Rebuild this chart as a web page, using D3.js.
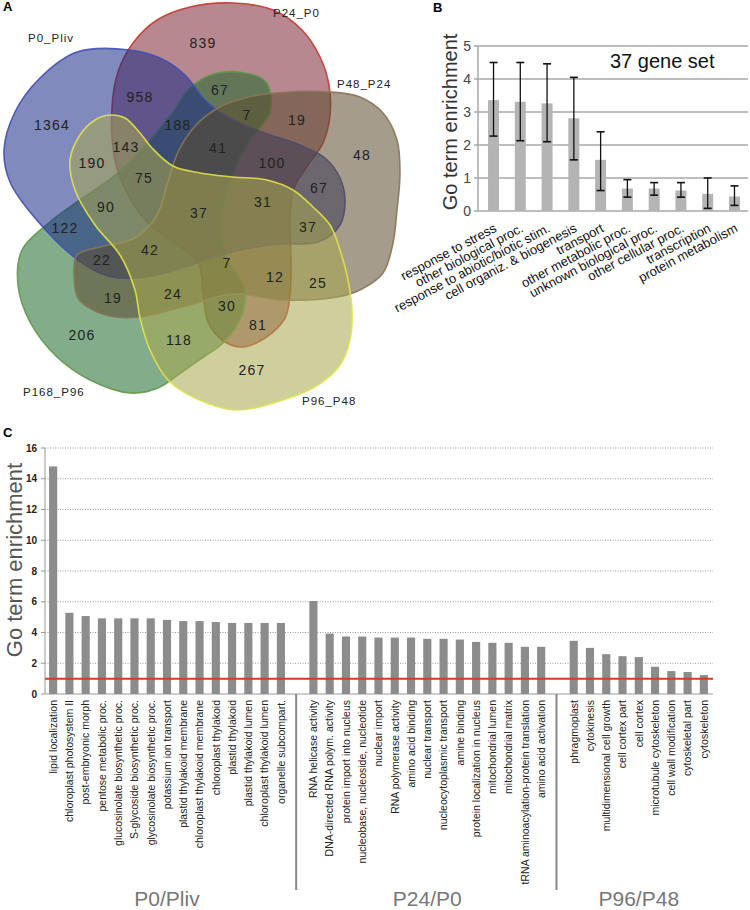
<!DOCTYPE html>
<html><head><meta charset="utf-8">
<script src="https://cdn.jsdelivr.net/npm/d3@7"></script>
<style>
body{margin:0;background:#fff;}
svg{display:block;font-family:"Liberation Sans",Arial,Helvetica,sans-serif;}
</style></head>
<body>
<svg id="chart" width="750" height="910"></svg>
<script>
// ---------- Panel A: Venn data ----------
const vennSets = ["P0_Pliv","P24_P0","P48_P24","P168_P96","P96_P48"];
const vennCounts = [839,958,67,7,19,1364,188,143,41,100,48,190,75,67,90,37,31,37,122,42,22,7,12,25,19,24,30,81,206,118,267];

// ---------- Panel B data ----------
const bCategories = ["response to stress","other biological proc.","response to abiotic/biotic stim.","cell organiz. & biogenesis","transport","other metabolic proc.","unknown biological proc.","other cellular proc.","transcription","protein metabolism"];
const bValues = [3.36,3.31,3.26,2.81,1.55,0.68,0.68,0.62,0.52,0.44];
const bErrLow = [2.27,2.13,2.10,1.55,0.62,0.42,0.48,0.42,0.08,0.17];
const bErrHigh = [4.50,4.50,4.46,4.05,2.40,0.95,0.86,0.86,1.00,0.76];
const bTicks = [0,1,2,3,4,5];

// ---------- Panel C data ----------
const cGroups = ["P0/Pliv","P24/P0","P96/P48"];
const cCatsP0 = ["lipid localization","chloroplast photosystem II","post-embryonic morph","pentose metabolic proc.","glucosinolate biosynthetic proc.","S-glycoside biosynthetic proc.","glycosinolate biosynthetic proc.","potassium ion transport","plastid thylakoid membrane","chloroplast thylakoid membrane","chloroplast thylakoid","plastid thylakoid","plastid thylakoid lumen","chloroplast thylakoid lumen","organelle subcompart."];
const cValsP0 = [14.8,5.28,5.07,4.92,4.92,4.92,4.92,4.82,4.74,4.74,4.68,4.62,4.62,4.62,4.62];
const cCatsP24 = ["RNA helicase activity","DNA-directed RNA polym. activity","protein import into nucleus","nucleobase, nucleoside, nucleotide","nuclear import","RNA polymerase activity","amino acid binding","nuclear transport","nucleocytoplasmic transport","amine binding","protein localization in nucleus","mitochondrial lumen","mitochondrial matrix","tRNA aminoacylation-protein translation","amino acid activation"];
const cValsP24 = [6.05,3.93,3.74,3.74,3.67,3.67,3.67,3.59,3.59,3.54,3.39,3.33,3.33,3.07,3.07];
const cCatsP96 = ["phragmoplast","cytokinesis","multidimensional cell growth","cell cortex part","cell cortex","microtubule cytoskeleton","cell wall modification","cytoskeletal part","cytoskeleton"];
const cValsP96 = [3.46,3.0,2.59,2.46,2.4,1.77,1.49,1.43,1.23];
const cTicks = [0,2,4,6,8,10,12,14,16];
const cThreshold = 1;

const svg = d3.select("#chart");

// ================= Panel A =================
// layout (shape geometry and label placement)
const vennShapes = {
  "P168_P96": {pts:[[22,250],[18,285],[30,322],[57,357],[90,380],[130,393],[158,388],[182,372],[205,356],[222,344],[240,320],[245,290],[226,256],[222,215],[232,175],[250,140],[270,112],[266,82],[238,72],[208,76],[188,90],[173,112],[150,140],[115,175],[80,200],[50,222]], fill:"#1d6a2a", stroke:"#5e9a48"},
  "P0_Pliv": {pts:[[40,78],[77,52],[130,50],[160,58],[185,75],[205,100],[228,117],[262,132],[300,145],[325,158],[340,178],[345,200],[340,225],[318,242],[280,244],[240,250],[200,262],[165,273],[135,278],[108,276],[78,260],[35,218],[10,182],[4,150],[15,112]], fill:"#1a2a86", stroke:"#4050b4"},
  "P24_P0": {pts:[[112,108],[118,72],[133,43],[157,20],[190,7],[233,3],[273,10],[302,30],[320,57],[329,85],[330,115],[323,143],[308,165],[294,188],[290,220],[291,260],[290,295],[285,318],[265,338],[242,347],[222,340],[208,322],[203,292],[198,262],[178,245],[150,225],[128,195],[115,160]], fill:"#7e2735", stroke:"#c23a30"},
  "P48_P24": {pts:[[77,255],[100,247],[135,238],[157,215],[167,185],[178,152],[196,125],[218,108],[245,98],[275,93],[330,92],[360,97],[383,113],[397,140],[400,173],[397,210],[393,243],[383,273],[360,290],[337,297],[283,300],[233,294],[183,307],[140,317],[115,317],[93,310],[78,298],[74,275]], fill:"#5b4b2e", stroke:"#8a7458"},
  "P96_P48": {pts:[[110,115],[125,118],[140,133],[152,148],[173,166],[200,173],[233,177],[267,180],[293,190],[313,207],[330,225],[340,250],[348,280],[352,310],[350,340],[340,365],[318,385],[283,400],[235,410],[195,398],[168,380],[150,350],[140,318],[135,290],[120,255],[95,225],[75,190],[70,160],[80,135],[95,120]], fill:"#a8a84e", stroke:"#e2e24a"}
};
const drawOrder = ["P24_P0","P168_P96","P0_Pliv","P48_P24","P96_P48"];
const setLabelPos = {"P0_Pliv":[28,42],"P24_P0":[273,17],"P48_P24":[337,88],"P168_P96":[23,396],"P96_P48":[302,405]};
const countPos = [[203,43],[140,97],[220,90],[247,115],[297,120],[52,125],[178,125],[126,147],[218,148],[272,163],[362,155],[92,163],[144,178],[319,188],[106,207],[199,213],[263,202],[308,227],[65,228],[150,250],[102,260],[227,263],[275,277],[318,283],[113,298],[173,294],[227,306],[258,325],[82,335],[179,340],[252,370]];

const gA = svg.append("g");
const line = d3.line().curve(d3.curveCatmullRomClosed.alpha(0.5));
drawOrder.forEach(k => {
  const s = vennShapes[k];
  gA.append("path").attr("d", line(s.pts))
    .attr("fill", s.fill).attr("fill-opacity", 0.55)
    .attr("stroke", s.stroke).attr("stroke-width", 1.6).attr("stroke-opacity",0.9);
});
vennSets.forEach(k => {
  gA.append("text").attr("x", setLabelPos[k][0]).attr("y", setLabelPos[k][1])
    .attr("font-size", 11.5).attr("letter-spacing", 1).attr("fill", "#222").text(k);
});
vennCounts.forEach((v,i) => {
  gA.append("text").attr("x", countPos[i][0]).attr("y", countPos[i][1]).attr("dy","0.36em")
    .attr("text-anchor","middle").attr("font-size", 14).attr("letter-spacing", 1.2)
    .attr("fill", "#222").text(v);
});
svg.append("text").attr("x",3).attr("y",11).attr("font-size",13).attr("font-weight","bold").text("A");

// ================= Panel B =================
const gB = svg.append("g");
const bx = d3.scaleBand().domain(bCategories).range([480,748]).paddingInner(0.59).paddingOuter(0.3);
const by = d3.scaleLinear().domain([0,5]).range([211,46]);
gB.selectAll("line.grid").data(bTicks).join("line")
  .attr("x1",478).attr("x2",748).attr("y1",d=>by(d)).attr("y2",d=>by(d))
  .attr("stroke","#a9a9a9").attr("stroke-width",1.5);
gB.append("line").attr("x1",478).attr("x2",478).attr("y1",by(5)).attr("y2",by(0)).attr("stroke","#a9a9a9").attr("stroke-width",1.5);
gB.selectAll("line.tk").data(bTicks).join("line")
  .attr("x1",474).attr("x2",478).attr("y1",d=>by(d)).attr("y2",d=>by(d))
  .attr("stroke","#a9a9a9").attr("stroke-width",1.5);
gB.selectAll("text.tl").data(bTicks).join("text")
  .attr("x",471).attr("y",d=>by(d)).attr("dy","0.36em").attr("text-anchor","end")
  .attr("font-size",14).attr("fill","#444").text(d=>d);
gB.selectAll("rect").data(bValues).join("rect")
  .attr("x",(d,i)=>bx(bCategories[i])).attr("width",bx.bandwidth())
  .attr("y",d=>by(d)).attr("height",d=>by(0)-by(d)).attr("fill","#b4b4b4");
bValues.forEach((v,i) => {
  const cx = bx(bCategories[i]) + bx.bandwidth()/2;
  gB.append("line").attr("x1",cx).attr("x2",cx).attr("y1",by(bErrLow[i])).attr("y2",by(bErrHigh[i])).attr("stroke","#111").attr("stroke-width",1.3);
  [bErrLow[i],bErrHigh[i]].forEach(e => gB.append("line").attr("x1",cx-4).attr("x2",cx+4).attr("y1",by(e)).attr("y2",by(e)).attr("stroke","#111").attr("stroke-width",1.6));
  gB.append("text").attr("transform",`translate(${cx+4},${231}) rotate(-28)`)
    .attr("text-anchor","end").attr("font-size",13).attr("fill","#111").text(bCategories[i]);
});
gB.append("text").attr("x",610).attr("y",68).attr("font-size",20).attr("fill","#111").text("37 gene set");
gB.append("text").attr("transform","translate(457,122) rotate(-90)").attr("text-anchor","middle")
  .attr("font-size",20).attr("fill","#333").text("Go term enrichment");
svg.append("text").attr("x",433).attr("y",12).attr("font-size",13).attr("font-weight","bold").text("B");

// ================= Panel C =================
const gC = svg.append("g");
const cSlots = [...cCatsP0, "__sep1", ...cCatsP24, "__sep2", ...cCatsP96];
const cCats = [...cCatsP0, ...cCatsP24, ...cCatsP96];
const cVals = [...cValsP0, ...cValsP24, ...cValsP96];
const cx = d3.scaleBand().domain(cSlots).range([45,712]).paddingInner(0.5).paddingOuter(0.25);
const cy = d3.scaleLinear().domain([0,16]).range([694,448]);
gC.selectAll("line.grid").data(cTicks.filter(d=>d>0)).join("line")
  .attr("x1",45).attr("x2",713).attr("y1",d=>cy(d)).attr("y2",d=>cy(d))
  .attr("stroke","#9a9a9a").attr("stroke-width",1).attr("stroke-dasharray","1,1.5");
gC.append("line").attr("x1",45).attr("x2",45).attr("y1",cy(16)).attr("y2",cy(0)).attr("stroke","#9a9a9a").attr("stroke-width",1);
gC.append("line").attr("x1",45).attr("x2",713).attr("y1",cy(0)).attr("y2",cy(0)).attr("stroke","#9a9a9a").attr("stroke-width",1.2);
gC.selectAll("line.tk").data(cTicks).join("line")
  .attr("x1",41).attr("x2",45).attr("y1",d=>cy(d)).attr("y2",d=>cy(d)).attr("stroke","#9a9a9a");
gC.selectAll("text.tl").data(cTicks).join("text")
  .attr("x",37).attr("y",d=>cy(d)).attr("dy","0.36em").attr("text-anchor","end")
  .attr("font-size",10).attr("font-weight","bold").attr("fill","#222").text(d=>d);
gC.selectAll("rect").data(cVals).join("rect")
  .attr("x",(d,i)=>cx(cCats[i])).attr("width",cx.bandwidth())
  .attr("y",d=>cy(d)).attr("height",d=>cy(0)-cy(d)).attr("fill","#8c8c8c");
gC.append("line").attr("x1",45).attr("x2",713).attr("y1",cy(cThreshold)).attr("y2",cy(cThreshold))
  .attr("stroke","#d43a24").attr("stroke-width",2);
cCats.forEach((c,i) => {
  const x = cx(c) + cx.bandwidth()/2 + 3.8;
  gC.append("text").attr("transform",`translate(${x},700) rotate(-90)`).attr("text-anchor","end")
    .attr("font-size",10.5).attr("fill","#222").text(c);
});
["__sep1","__sep2"].forEach(s => {
  const x = cx(s) + cx.bandwidth()/2 - 1;
  gC.append("line").attr("x1",x).attr("x2",x).attr("y1",cy(0)).attr("y2",890).attr("stroke","#888").attr("stroke-width",2);
});
const groupCenters = [
  (cx(cCatsP0[0]) + cx(cCatsP0[cCatsP0.length-1]) + cx.bandwidth())/2,
  (cx(cCatsP24[0]) + cx(cCatsP24[cCatsP24.length-1]) + cx.bandwidth())/2,
  (cx(cCatsP96[0]) + cx(cCatsP96[cCatsP96.length-1]) + cx.bandwidth())/2
];
cGroups.forEach((g,i) => {
  gC.append("text").attr("x",groupCenters[i]).attr("y",906).attr("text-anchor","middle")
    .attr("font-size",21).attr("fill","#777").text(g);
});
gC.append("text").attr("transform","translate(22,560) rotate(-90)").attr("text-anchor","middle")
  .attr("font-size",22).attr("fill","#555").text("Go term enrichment");
svg.append("text").attr("x",3).attr("y",437).attr("font-size",13).attr("font-weight","bold").text("C");
</script>
</body></html>
